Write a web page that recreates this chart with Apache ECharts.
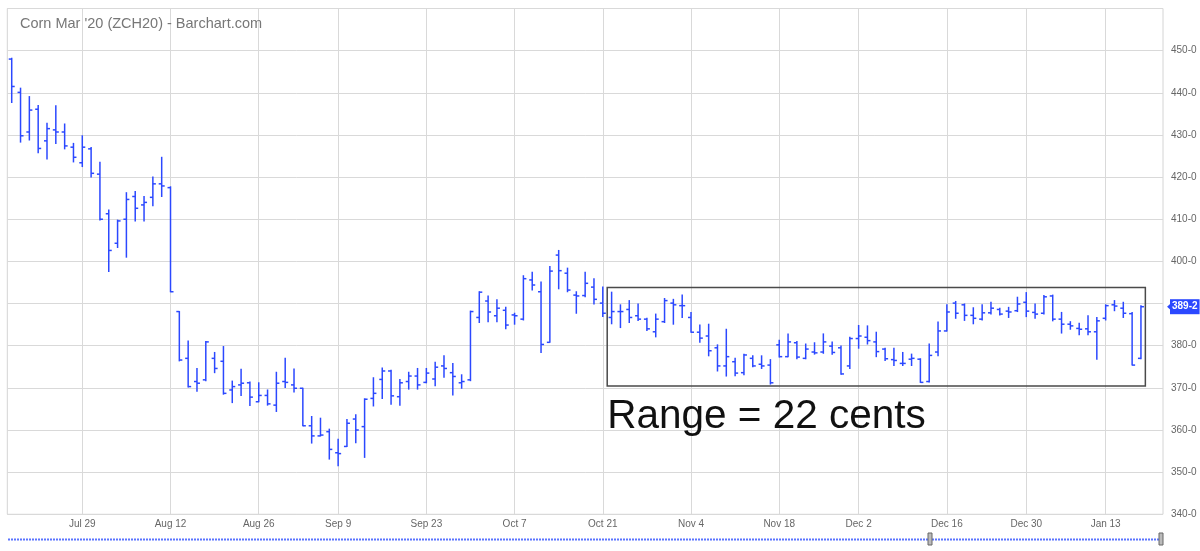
<!DOCTYPE html>
<html>
<head>
<meta charset="utf-8">
<script src="https://cdn.jsdelivr.net/npm/echarts@6/dist/echarts.min.js"></script>
<style>
html,body{margin:0;padding:0;background:#fff;}
#chart{width:1200px;height:551px;}
</style>
</head>
<body>
<div id="chart"></div>
<script>
// Trading days (category axis)
const dates = [
 '2019-07-17','2019-07-18','2019-07-19','2019-07-22','2019-07-23','2019-07-24','2019-07-25','2019-07-26','2019-07-29','2019-07-30','2019-07-31',
 '2019-08-01','2019-08-02','2019-08-05','2019-08-06','2019-08-07','2019-08-08','2019-08-09','2019-08-12','2019-08-13','2019-08-14','2019-08-15','2019-08-16','2019-08-19','2019-08-20','2019-08-21','2019-08-22','2019-08-23','2019-08-26','2019-08-27','2019-08-28','2019-08-29','2019-08-30',
 '2019-09-03','2019-09-04','2019-09-05','2019-09-06','2019-09-09','2019-09-10','2019-09-11','2019-09-12','2019-09-13','2019-09-16','2019-09-17','2019-09-18','2019-09-19','2019-09-20','2019-09-23','2019-09-24','2019-09-25','2019-09-26','2019-09-27','2019-09-30',
 '2019-10-01','2019-10-02','2019-10-03','2019-10-04','2019-10-07','2019-10-08','2019-10-09','2019-10-10','2019-10-11','2019-10-14','2019-10-15','2019-10-16','2019-10-17','2019-10-18','2019-10-21','2019-10-22','2019-10-23','2019-10-24','2019-10-25','2019-10-28','2019-10-29','2019-10-30','2019-10-31',
 '2019-11-01','2019-11-04','2019-11-05','2019-11-06','2019-11-07','2019-11-08','2019-11-11','2019-11-12','2019-11-13','2019-11-14','2019-11-15','2019-11-18','2019-11-19','2019-11-20','2019-11-21','2019-11-22','2019-11-25','2019-11-26','2019-11-27','2019-11-29',
 '2019-12-02','2019-12-03','2019-12-04','2019-12-05','2019-12-06','2019-12-09','2019-12-10','2019-12-11','2019-12-12','2019-12-13','2019-12-16','2019-12-17','2019-12-18','2019-12-19','2019-12-20','2019-12-23','2019-12-24','2019-12-26','2019-12-27','2019-12-30','2019-12-31',
 '2020-01-02','2020-01-03','2020-01-06','2020-01-07','2020-01-08','2020-01-09','2020-01-10','2020-01-13','2020-01-14','2020-01-15','2020-01-16','2020-01-17'
];
// empty slots to the right of the last bar
const padSlots = ['pad-1','pad-2'];

const opens = [448.0,440.1,430.7,436.1,428.6,431.2,430.7,427.1,423.4,426.7,420.7,411.3,404.3,410.0,415.4,413.4,415.2,418.4,417.5,388.1,
 377.0,371.5,371.9,377.0,376.3,369.5,370.7,371.2,366.7,368.2,365.9,371.5,370.7,369.9,361.0,358.6,359.6,354.6,356.1,362.6,
 360.8,367.5,372.0,374.0,367.9,371.5,372.8,371.3,372.1,375.2,373.6,371.2,371.9,386.7,390.6,387.1,388.4,387.3,386.3,395.6,
 392.8,380.8,401.5,397.2,392.0,391.9,393.9,390.1,386.7,388.1,388.6,387.1,386.3,383.3,385.7,390.1,389.5,386.7,383.2,382.3,
 379.5,375.2,376.2,373.6,377.0,375.6,375.4,380.2,377.4,380.7,377.0,378.5,378.5,379.9,379.5,375.2,381.7,382.0,380.9,379.2,
 376.7,375.8,376.8,376.8,371.5,378.5,383.5,390.1,389.7,387.2,386.3,387.8,388.6,388.2,388.3,390.3,387.9,387.7,391.8,386.3,
 385.1,384.1,384.0,383.3,386.5,389.7,388.9,387.6,377.0];
const highs = [448.2,441.1,439.1,437.0,432.8,436.9,432.6,428.0,429.8,427.0,423.5,412.2,409.8,416.3,416.6,415.4,420.0,424.7,417.7,388.1,
 381.1,374.6,381.0,378.4,379.8,371.6,374.4,371.4,371.2,369.5,373.7,377.0,374.5,369.9,363.2,362.8,360.2,357.8,362.5,363.6,
 367.4,372.4,374.7,374.2,372.0,373.7,374.6,374.6,376.1,377.6,375.8,373.1,388.2,392.8,391.8,390.9,389.1,387.7,396.6,397.4,
 395.1,398.8,402.6,398.4,392.8,397.4,395.9,393.9,392.7,389.7,390.7,389.9,386.5,387.5,391.2,391.0,392.0,387.9,384.9,385.1,
 380.2,383.9,377.0,378.0,377.6,377.6,376.7,381.3,382.8,381.0,380.4,380.7,382.8,380.9,379.9,382.0,384.8,384.7,383.2,379.4,
 379.4,378.4,378.0,376.9,380.4,385.6,389.7,390.5,389.9,389.0,389.7,390.3,388.9,389.1,391.5,392.6,389.9,391.9,392.0,387.9,
 385.7,385.3,387.1,386.7,389.7,390.7,390.3,387.9,389.5];
const lows = [437.7,428.3,428.8,425.8,424.3,428.0,426.7,423.6,422.5,420.0,409.8,397.6,403.3,401.0,409.6,409.6,413.2,415.4,392.8,376.4,
 370.2,369.2,371.7,373.6,368.5,366.5,368.2,365.8,366.7,365.9,364.4,370.1,369.0,361.0,356.9,358.6,353.1,351.5,356.1,357.0,
 353.5,365.7,367.5,366.1,365.9,369.7,369.7,371.2,370.5,372.5,368.3,369.9,371.7,385.5,385.7,385.7,384.0,385.1,386.1,393.2,
 378.4,380.8,393.5,392.8,387.7,391.6,389.9,386.9,385.2,384.3,385.5,386.0,383.6,382.1,385.5,385.1,386.7,383.2,380.8,377.6,
 374.0,372.8,372.9,373.1,375.0,374.6,370.9,377.3,377.4,376.9,376.9,378.0,378.2,378.0,373.2,374.6,379.4,380.4,377.4,376.5,
 375.3,375.3,375.3,371.3,371.4,377.6,383.5,386.5,386.0,385.2,386.1,387.5,387.3,386.7,388.1,386.9,386.5,387.5,385.9,383.0,
 383.9,382.6,382.6,376.8,386.1,388.3,386.7,375.4,376.9];
const closes = [441.5,429.8,435.9,426.8,431.5,430.7,427.4,424.7,427.1,420.9,410.0,402.6,409.6,414.7,412.6,414.0,418.4,417.9,392.8,376.6,
 370.3,371.1,380.9,374.6,368.7,370.3,371.1,367.8,368.2,366.2,371.1,371.3,369.9,361.0,358.6,358.8,355.4,354.4,361.6,360.0,
 367.3,368.7,374.0,368.1,371.2,372.8,370.7,373.5,374.9,374.6,372.7,371.5,388.1,392.7,388.0,388.9,384.9,387.1,395.9,394.4,
 380.3,397.7,397.8,393.2,391.8,394.8,391.0,387.7,388.1,388.1,386.7,386.3,384.0,386.3,390.7,389.7,389.5,383.2,381.8,378.8,
 375.2,377.4,373.5,377.8,375.2,375.2,371.2,377.4,380.9,377.3,379.2,378.3,380.9,378.4,373.3,381.7,382.3,381.2,378.6,376.9,
 376.5,375.8,377.0,371.3,377.7,383.5,388.0,387.7,387.2,386.5,387.8,388.9,387.5,388.0,389.9,388.2,387.5,391.6,386.3,385.1,
 384.7,383.9,383.3,385.9,389.5,389.4,387.7,375.4,389.25];

// x-axis labelled dates and their texts
const tickDates = ['2019-07-29','2019-08-12','2019-08-26','2019-09-09','2019-09-23','2019-10-07','2019-10-21','2019-11-04','2019-11-18','2019-12-02','2019-12-16','2019-12-30','2020-01-13'];
const tickLabels = ['Jul 29','Aug 12','Aug 26','Sep 9','Sep 23','Oct 7','Oct 21','Nov 4','Nov 18','Dec 2','Dec 16','Dec 30','Jan 13'];
// y-axis
const yMin = 340, yMax = 460, yStep = 10;

// range box: first/last bar index covered and price bounds
const rangeBox = [67, 128, 370.45, 393.8];
const rangeText = 'Range = 22 cents';
const titleText = "Corn Mar '20 (ZCH20) - Barchart.com";

const BLUE = '#2b48ff';
const ohlcData = dates.map((d, i) => [i, opens[i], highs[i], lows[i], closes[i]]);
const lastClose = closes[closes.length - 1];
const fmtPrice = v => { const w = Math.floor(v); return w + '-' + Math.round((v - w) * 8); };

const chart = echarts.init(document.getElementById('chart'), null, {renderer: 'canvas'});
const FONT = 'Liberation Sans, Arial, sans-serif';

chart.setOption({
  animation: false,
  backgroundColor: '#fff',
  title: {
    text: titleText, left: 15, top: 11,
    textStyle: {fontSize: 14.5, fontWeight: 'normal', color: '#777', fontFamily: FONT}
  },
  grid: {left: 7.3, right: 37, top: 8.5, bottom: 36.7, show: true, borderColor: '#d4d4d4', borderWidth: 1},
  xAxis: {
    type: 'category',
    data: dates.concat(padSlots),
    boundaryGap: true,
    axisLine: {show: false},
    axisTick: {show: false},
    axisLabel: {
      interval: (i, v) => tickDates.indexOf(v) >= 0,
      formatter: v => { const k = tickDates.indexOf(v); return k >= 0 ? tickLabels[k] : ''; },
      color: '#666', fontSize: 10, fontFamily: FONT, margin: 5
    },
    splitLine: {
      show: true, alignWithLabel: true,
      interval: (i, v) => tickDates.indexOf(v) >= 0,
      lineStyle: {color: '#d9d9d9', width: 1}
    }
  },
  yAxis: {
    type: 'value', position: 'right', min: yMin, max: yMax, interval: yStep,
    axisLine: {show: false}, axisTick: {show: false},
    axisLabel: {
      // labels that would sit under the last-price tag are hidden
      formatter: v => (v >= yMax || Math.abs(v - lastClose) < 3 ? '' : v + '-0'),
      color: '#666', fontSize: 10, fontFamily: FONT, margin: 8
    },
    splitLine: {show: true, lineStyle: {color: '#d9d9d9', width: 1}}
  },
  series: [
    {
      type: 'custom',
      name: 'ZCH20',
      data: ohlcData,
      encode: {x: 0, y: [1, 2, 3, 4]},
      z: 3,
      renderItem: (params, api) => {
        const i = api.value(0);
        const o = api.coord([i, api.value(1)]);
        const h = api.coord([i, api.value(2)]);
        const l = api.coord([i, api.value(3)]);
        const c = api.coord([i, api.value(4)]);
        const t = 3;
        const st = {stroke: BLUE, lineWidth: 1.5};
        return {type: 'group', children: [
          {type: 'line', shape: {x1: h[0], y1: h[1] - 0.5, x2: l[0], y2: l[1] + 0.5}, style: st},
          {type: 'line', shape: {x1: o[0] - t, y1: o[1], x2: o[0], y2: o[1]}, style: st},
          {type: 'line', shape: {x1: c[0], y1: c[1], x2: c[0] + t, y2: c[1]}, style: st}
        ]};
      },
      markLine: {
        silent: true, symbol: 'none', animation: false,
        lineStyle: {color: 'rgba(0,0,0,0)', width: 1, type: 'solid'},
        label: {
          show: true,
          position: 'end', distance: 7, formatter: () => fmtPrice(lastClose),
          color: '#fff', backgroundColor: BLUE, fontSize: 10, fontWeight: 'bold',
          fontFamily: FONT, padding: [3, 2, 2, 2], opacity: 1
        },
        data: [{yAxis: lastClose}]
      },
      markPoint: {
        silent: true, animation: false,
        symbol: 'triangle', symbolRotate: 90, symbolSize: [11, 6],
        symbolOffset: [11.5, 0],
        itemStyle: {color: BLUE},
        label: {show: false},
        data: [{coord: [padSlots[padSlots.length - 1], lastClose]}]
      }
    },
    {
      type: 'custom',
      name: 'range',
      data: [rangeBox],
      encode: {x: [0, 1], y: [2, 3]},
      z: 4,
      silent: true,
      renderItem: (params, api) => {
        const bw = api.size([1, 0])[0];
        const p0 = api.coord([api.value(0), api.value(3)]);
        const p1 = api.coord([api.value(1), api.value(2)]);
        const x0 = p0[0] + bw / 2, x1 = p1[0] + bw / 2;
        return {
          type: 'group', children: [
            {type: 'rect', shape: {x: x0, y: p0[1], width: x1 - x0, height: p1[1] - p0[1]},
             style: {fill: 'none', stroke: '#4a4a4a', lineWidth: 1.5}},
            {type: 'text', style: {text: rangeText, x: x0, y: p1[1] + 31, fill: '#111',
             font: '40.5px ' + FONT, textAlign: 'left', textVerticalAlign: 'middle'}}
          ]
        };
      }
    }
  ],
  graphic: [
    {type: 'line', shape: {x1: 8, y1: 539.5, x2: 1162, y2: 539.5}, style: {stroke: '#5b74ff', lineWidth: 2, lineDash: [2, 1]}, silent: true},
    {type: 'rect', shape: {x: 928, y: 533, width: 4, height: 12}, style: {fill: '#bbb', stroke: '#666', lineWidth: 1}, silent: true},
    {type: 'rect', shape: {x: 1159, y: 533, width: 4, height: 12}, style: {fill: '#bbb', stroke: '#666', lineWidth: 1}, silent: true}
  ]
});
</script>
</body>
</html>
